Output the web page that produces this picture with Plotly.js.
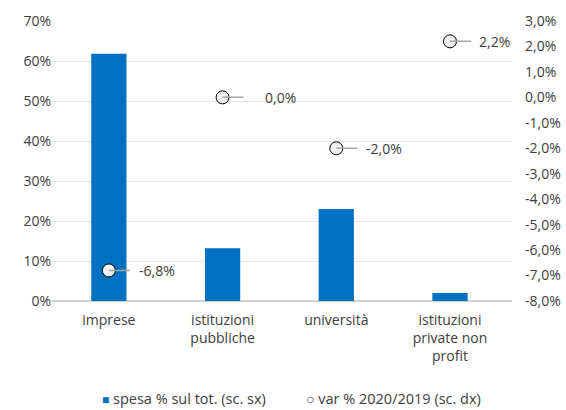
<!DOCTYPE html>
<html>
<head>
<meta charset="utf-8">
<script src="https://cdn.plot.ly/plotly-3.0.1.min.js"></script>
<style>html,body{margin:0;padding:0;background:#fff;}#chart{width:566px;height:410px;}</style>
</head>
<body>
<div id="chart"></div>
<script>
const categories = ["imprese", "istituzioni<br>pubbliche", "università", "istituzioni<br>private non<br>profit"];
const spesaPct = [61.8, 13.2, 23.0, 2.0];
const varPct = [-6.8, 0.0, -2.0, 2.2];
const leftTicks = [0, 10, 20, 30, 40, 50, 60, 70];
const rightTicks = [3, 2, 1, 0, -1, -2, -3, -4, -5, -6, -7, -8];
const seriesNames = ["spesa % sul tot. (sc. sx)", "var % 2020/2019 (sc. dx)"];

function fmt(v) {
  return (v < 0 ? "-" : "") + Math.abs(v).toFixed(1).replace(".", ",") + "%";
}

const font = {family: "'Open Sans', sans-serif", size: 14, color: "#404040"};
const legendFont = {family: "'Open Sans', sans-serif", size: 14.5, color: "#404040"};

const traces = [
  {
    type: "bar", x: categories, y: spesaPct, name: seriesNames[0],
    marker: {color: "#0070C0"}, width: 0.31, yaxis: "y", hoverinfo: "skip"
  },
  {
    type: "scatter", mode: "markers", x: categories, y: varPct, name: seriesNames[1],
    yaxis: "y2",
    marker: {symbol: "circle", size: 13, color: "#f2f2f2", line: {color: "#000", width: 1}}
  }
];

const labelOffsets = [28, 40, 28, 27];
const annotations = categories.map((c, i) => ({
  x: c, y: varPct[i], xref: "x", yref: "y2",
  text: fmt(varPct[i]), showarrow: true, arrowhead: 0, arrowwidth: 1.5,
  arrowcolor: "#a6a6a6", ax: labelOffsets[i], ay: 0, xanchor: "left",
  startstandoff: labelOffsets[i] - 21, standoff: 0,
  font: font
}));

// manual legend
annotations.push({
  xref: "paper", yref: "paper", x: 0.105, y: -0.348, xanchor: "left", yanchor: "middle",
  showarrow: false, font: legendFont,
  text: '<span style="color:#0070C0;font-size:12px">■</span> ' + seriesNames[0]
});
annotations.push({
  xref: "paper", yref: "paper", x: 0.547, y: -0.348, xanchor: "left", yanchor: "middle",
  showarrow: false, font: legendFont,
  text: '<span style="font-size:14px">○</span> ' + seriesNames[1]
});

const layout = {
  width: 566, height: 410,
  margin: {l: 52, r: 54, t: 21, b: 109},
  paper_bgcolor: "#fff", plot_bgcolor: "#fff",
  font: font,
  showlegend: false,
  xaxis: {type: "category", tickfont: font, showgrid: false, showline: false,
          ticks: "", automargin: false, ticklabelstandoff: 9},
  yaxis: {range: [0, 70], tickvals: leftTicks, ticktext: leftTicks.map(v => v + "%"),
          showgrid: true, gridcolor: "#e6e6e6", gridwidth: 1,
          zeroline: true, zerolinecolor: "#d0d0d0", zerolinewidth: 1.5,
          showline: false, ticks: "", tickfont: font, automargin: false},
  yaxis2: {overlaying: "y", side: "right", range: [-8, 3],
           tickvals: rightTicks, ticktext: rightTicks.map(fmt), automargin: false,
           ticklabelstandoff: 12,
           showgrid: false, zeroline: false, showline: false, ticks: "", tickfont: font},
  annotations: annotations
};

Plotly.newPlot("chart", traces, layout, {displayModeBar: false, staticPlot: true});
</script>
</body>
</html>
